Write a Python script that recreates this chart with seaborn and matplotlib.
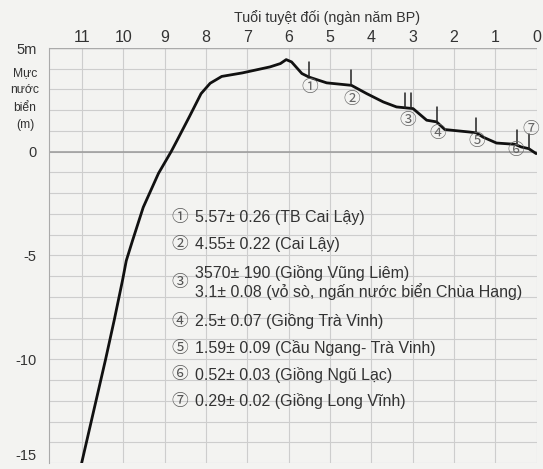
import numpy as np
import pandas as pd
import matplotlib
matplotlib.use("Agg")
import matplotlib.pyplot as plt
import seaborn as sns

# sea level curve (age in thousand years BP, level in m)
age = [11.01, 10.72, 10.43, 10.22, 10.02, 9.93, 9.78, 9.52, 9.15, 8.84, 8.70, 8.4, 8.12, 7.9,
       7.62, 7.12, 6.45, 6.2, 6.06, 5.93, 5.68, 5.51, 5.08, 4.48, 4.11, 3.71, 3.39, 2.99, 2.66,
       2.42, 2.22, 1.62, 1.46, 1.3, 0.97, 0.53, 0.37, 0.19, 0.01]
level = [-15.0, -12.5, -10.0, -8.1, -6.19, -5.25, -4.29, -2.68, -1.04, 0.02, 0.55, 1.7, 2.8, 3.3,
         3.63, 3.8, 4.09, 4.25, 4.44, 4.33, 3.77, 3.6, 3.32, 3.2, 2.8, 2.4, 2.16, 2.08, 1.52,
         1.44, 1.07, 0.95, 0.91, 0.71, 0.42, 0.36, 0.23, 0.15, -0.09]

# dated samples: tick positions on the curve and circled numbers
tick_age = [5.51, 4.48, 3.19, 3.03, 2.42, 1.46, 0.48, 0.19]
sample_num = ["①", "②", "③", "④", "⑤", "⑥", "⑦"]
num_x = [5.5, 4.48, 3.12, 2.4, 1.46, 0.51, 0.13]
num_y = [3.12, 2.52, 1.52, 0.88, 0.47, 0.07, 1.07]
legend_lines = [
    ("①", ["5.57± 0.26 (TB Cai Lậy)"]),
    ("②", ["4.55± 0.22 (Cai Lậy)"]),
    ("③", ["3570± 190 (Giồng Vũng Liêm)", "3.1± 0.08 (vỏ sò, ngấn nước biển Chùa Hang)"]),
    ("④", ["2.5± 0.07 (Giồng Trà Vinh)"]),
    ("⑤", ["1.59± 0.09 (Cầu Ngang- Trà Vinh)"]),
    ("⑥", ["0.52± 0.03 (Giồng Ngũ Lạc)"]),
    ("⑦", ["0.29± 0.02 (Giồng Long Vĩnh)"]),
]
x_ticks = list(range(0, 12))
y_ticks = [5, 0, -5, -10, -15]
y_tick_labels = ["5m", "0", "-5", "-10", "-15"]

sns.set_style("white")
plt.rcParams["font.family"] = ["Liberation Sans", "Noto Sans CJK SC", "DejaVu Sans"]
txt = "#333333"
bg = "#f3f3f1"

W, H = 543, 469
fig = plt.figure(figsize=(W / 100, H / 100), dpi=100, facecolor=bg)
ax = fig.add_axes([49 / W, 1 - 463 / H, (537 - 49) / W, (463 - 48) / H])
ax.set_facecolor(bg)

df = pd.DataFrame({"age": age, "level": level})
sns.lineplot(data=df, x="age", y="level", sort=False, color="#111111", lw=2.0, ax=ax)

# sample tick marks on curve
for a in tick_age:
    lv = np.interp(a, age[::-1], level[::-1])
    ax.plot([a, a], [lv, lv + 0.72], color="#222222", lw=1.1)
for n, x, y in zip(sample_num, num_x, num_y):
    ax.text(x, y, n, fontsize=12, color="#666666", ha="center", va="center")

ax.set_xlim(11.8, -0.01)
ax.set_ylim(-15, 5)
ax.xaxis.tick_top()
ax.set_xticks(x_ticks)
ax.set_xticklabels([str(t) for t in x_ticks], fontsize=11.5, color=txt)
ax.tick_params(axis="x", length=0, pad=2)
ax.set_yticks(y_ticks)
ax.set_yticklabels(y_tick_labels, fontsize=10.5, color=txt)
for lab in ax.get_yticklabels():
    lab.set_va("center_baseline")
ax.get_yticklabels()[-1].set_va("bottom")
ax.set_yticks(np.arange(-15, 6, 1), minor=True)
ax.tick_params(axis="y", which="major", length=7, width=1.2, color="#444444", direction="out", pad=2)
ax.tick_params(axis="y", which="minor", length=0)
ax.grid(True, which="both", color="#cdcdcd", lw=0.8)
ax.axhline(0, color="#999999", lw=1.1, zorder=1)
ax.axhline(5, color="#aaaaaa", lw=1.0, zorder=1)
ax.set_xlabel("")
ax.set_ylabel("")
for s in ["top", "right", "bottom"]:
    ax.spines[s].set_visible(False)
ax.spines["left"].set_color("#aaaaaa")

fig.text(327 / W, 1 - 18 / H, "Tuổi tuyệt đối (ngàn năm BP)", fontsize=10.3, color=txt, ha="center", va="center")
fig.text(25 / W, 1 - 99 / H, "Mực\nnước\nbiển\n(m)", fontsize=8.7, color=txt, ha="center", va="center",
         linespacing=1.6)

# legend block
rows_y = [217, 245, 282, 321, 348, 375, 401]
for (n, lines), ry in zip(legend_lines, rows_y):
    fig.text(180 / W, 1 - ry / H, n, fontsize=12, color="#555555", ha="center", va="center")
    if len(lines) == 1:
        fig.text(195 / W, 1 - ry / H, lines[0], fontsize=11.5, color=txt, ha="left", va="center")
    else:
        fig.text(195 / W, 1 - (ry - 9) / H, lines[0], fontsize=11.5, color=txt, ha="left", va="center")
        fig.text(195 / W, 1 - (ry + 10) / H, lines[1], fontsize=11.5, color=txt, ha="left", va="center")

fig.savefig("out.png", dpi=100, facecolor=fig.get_facecolor())
